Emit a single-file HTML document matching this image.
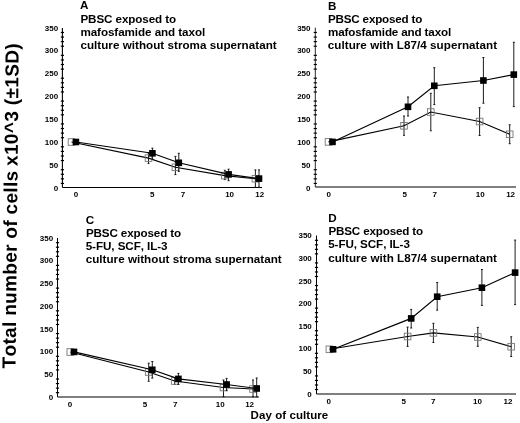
<!DOCTYPE html>
<html><head><meta charset="utf-8"><style>
html,body{margin:0;padding:0;background:#fff;}
body{width:520px;height:423px;overflow:hidden;}
svg{display:block;filter:blur(0.3px);}
text{font-family:"Liberation Sans", sans-serif;font-weight:bold;fill:#000;font-kerning:none;}
.tt{font-size:11.65px;}
.tl{font-size:8.0px;}
.yl{font-size:19px;}
.xlab{font-size:11.5px;}
.ax{stroke:#000;stroke-width:1.1;}
.tk{stroke:#000;stroke-width:1.2;}
.ln{fill:none;stroke:#000;stroke-width:1.15;}
.eb{stroke:#111;stroke-width:0.95;}
.om{fill:none;stroke:#777;stroke-width:0.9;}
.fm{fill:#000;}
</style></head><body>
<svg width="520" height="423" viewBox="0 0 520 423">
<rect width="520" height="423" fill="#fff"/>
<text class="yl" transform="translate(15.60,368.40) rotate(-89.45)" textLength="197.5" lengthAdjust="spacing">Total number of cells</text><text class="yl" transform="translate(17.54,166.01) rotate(-89.45)" textLength="122.6" lengthAdjust="spacing">x10^3 (±1SD)</text>
<text class="xlab" x="250.6" y="419" textLength="77.6" lengthAdjust="spacing">Day of culture</text>
<g id="pA"><line x1="62.4" y1="28" x2="62.4" y2="187.5" class="ax" style="stroke-width:1.1"/>
<line x1="62.4" y1="187.5" x2="262" y2="187.5" class="ax" style="stroke-width:1.1"/>
<line x1="60.8" y1="183.43" x2="64" y2="183.43" class="tk"/>
<line x1="60.8" y1="178.85" x2="64" y2="178.85" class="tk"/>
<line x1="60.8" y1="174.28" x2="64" y2="174.28" class="tk"/>
<line x1="60.8" y1="169.7" x2="64" y2="169.7" class="tk"/>
<line x1="60.8" y1="160.56" x2="64" y2="160.56" class="tk"/>
<line x1="60.8" y1="155.98" x2="64" y2="155.98" class="tk"/>
<line x1="60.8" y1="151.41" x2="64" y2="151.41" class="tk"/>
<line x1="60.8" y1="146.83" x2="64" y2="146.83" class="tk"/>
<line x1="60.8" y1="137.69" x2="64" y2="137.69" class="tk"/>
<line x1="60.8" y1="133.11" x2="64" y2="133.11" class="tk"/>
<line x1="60.8" y1="128.54" x2="64" y2="128.54" class="tk"/>
<line x1="60.8" y1="123.96" x2="64" y2="123.96" class="tk"/>
<line x1="60.8" y1="114.82" x2="64" y2="114.82" class="tk"/>
<line x1="60.8" y1="110.24" x2="64" y2="110.24" class="tk"/>
<line x1="60.8" y1="105.67" x2="64" y2="105.67" class="tk"/>
<line x1="60.8" y1="101.09" x2="64" y2="101.09" class="tk"/>
<line x1="60.8" y1="91.95" x2="64" y2="91.95" class="tk"/>
<line x1="60.8" y1="87.37" x2="64" y2="87.37" class="tk"/>
<line x1="60.8" y1="82.8" x2="64" y2="82.8" class="tk"/>
<line x1="60.8" y1="78.22" x2="64" y2="78.22" class="tk"/>
<line x1="60.8" y1="69.08" x2="64" y2="69.08" class="tk"/>
<line x1="60.8" y1="64.5" x2="64" y2="64.5" class="tk"/>
<line x1="60.8" y1="59.93" x2="64" y2="59.93" class="tk"/>
<line x1="60.8" y1="55.35" x2="64" y2="55.35" class="tk"/>
<line x1="60.8" y1="46.21" x2="64" y2="46.21" class="tk"/>
<line x1="60.8" y1="41.63" x2="64" y2="41.63" class="tk"/>
<line x1="60.8" y1="37.06" x2="64" y2="37.06" class="tk"/>
<line x1="60.8" y1="32.48" x2="64" y2="32.48" class="tk"/>
<text x="58.2" y="190.6" class="tl" text-anchor="end">0</text>
<text x="58.2" y="167.73" class="tl" text-anchor="end">50</text>
<text x="58.2" y="144.86" class="tl" text-anchor="end">100</text>
<text x="58.2" y="121.99" class="tl" text-anchor="end">150</text>
<text x="58.2" y="99.12" class="tl" text-anchor="end">200</text>
<text x="58.2" y="76.25" class="tl" text-anchor="end">250</text>
<text x="58.2" y="53.38" class="tl" text-anchor="end">300</text>
<text x="58.2" y="30.51" class="tl" text-anchor="end">350</text>
<text x="76" y="197.4" class="tl" text-anchor="middle">0</text>
<text x="152.3" y="197.4" class="tl" text-anchor="middle">5</text>
<text x="183" y="197.4" class="tl" text-anchor="middle">7</text>
<text x="229.6" y="197.4" class="tl" text-anchor="middle">10</text>
<text x="259.8" y="197.4" class="tl" text-anchor="middle">12</text>
<text x="79.9" y="9.4" class="tt">A</text>
<text x="80.4" y="22.6" class="tt" textLength="95.8" lengthAdjust="spacing">PBSC exposed to</text>
<text x="80.4" y="35.6" class="tt" textLength="124.8" lengthAdjust="spacing">mafosfamide and taxol</text>
<text x="80.4" y="48.6" class="tt" textLength="196.3" lengthAdjust="spacing">culture without stroma supernatant</text>
<polyline points="71.5,142 148.5,158.1 175.4,167.3 224.8,175.6 255.4,178.7" class="ln"/>
<rect x="68.2" y="138.7" width="6.6" height="6.6" class="om"/>
<line x1="148.5" y1="152.8" x2="148.5" y2="163.4" class="eb"/>
<line x1="147.5" y1="152.8" x2="149.5" y2="152.8" class="eb"/>
<line x1="147.5" y1="163.4" x2="149.5" y2="163.4" class="eb"/>
<rect x="145.2" y="154.8" width="6.6" height="6.6" class="om"/>
<line x1="175.4" y1="156.4" x2="175.4" y2="174.6" class="eb"/>
<line x1="174.4" y1="156.4" x2="176.4" y2="156.4" class="eb"/>
<line x1="174.4" y1="174.6" x2="176.4" y2="174.6" class="eb"/>
<rect x="172.1" y="164" width="6.6" height="6.6" class="om"/>
<line x1="224.8" y1="170.3" x2="224.8" y2="179.6" class="eb"/>
<line x1="223.8" y1="170.3" x2="225.8" y2="170.3" class="eb"/>
<line x1="223.8" y1="179.6" x2="225.8" y2="179.6" class="eb"/>
<rect x="221.5" y="172.3" width="6.6" height="6.6" class="om"/>
<line x1="255.4" y1="169.9" x2="255.4" y2="187.3" class="eb"/>
<line x1="254.4" y1="169.9" x2="256.4" y2="169.9" class="eb"/>
<line x1="254.4" y1="187.3" x2="256.4" y2="187.3" class="eb"/>
<rect x="252.1" y="175.4" width="6.6" height="6.6" class="om"/>
<polyline points="75.9,142 152.4,153.3 178.8,162.8 228.6,174.4 259,178.6" class="ln"/>
<rect x="72.6" y="138.7" width="6.6" height="6.6" class="fm"/>
<line x1="152.4" y1="148.2" x2="152.4" y2="159.2" class="eb"/>
<line x1="151.4" y1="148.2" x2="153.4" y2="148.2" class="eb"/>
<line x1="151.4" y1="159.2" x2="153.4" y2="159.2" class="eb"/>
<rect x="149.1" y="150" width="6.6" height="6.6" class="fm"/>
<line x1="178.8" y1="153.3" x2="178.8" y2="171.4" class="eb"/>
<line x1="177.8" y1="153.3" x2="179.8" y2="153.3" class="eb"/>
<line x1="177.8" y1="171.4" x2="179.8" y2="171.4" class="eb"/>
<rect x="175.5" y="159.5" width="6.6" height="6.6" class="fm"/>
<line x1="228.6" y1="169.2" x2="228.6" y2="180.7" class="eb"/>
<line x1="227.6" y1="169.2" x2="229.6" y2="169.2" class="eb"/>
<line x1="227.6" y1="180.7" x2="229.6" y2="180.7" class="eb"/>
<rect x="225.3" y="171.1" width="6.6" height="6.6" class="fm"/>
<line x1="259" y1="169.9" x2="259" y2="187.3" class="eb"/>
<line x1="258" y1="169.9" x2="260" y2="169.9" class="eb"/>
<line x1="258" y1="187.3" x2="260" y2="187.3" class="eb"/>
<rect x="255.7" y="175.3" width="6.6" height="6.6" class="fm"/></g><g id="pB"><line x1="315.3" y1="27.6" x2="315.3" y2="187" class="ax" style="stroke-width:0.85"/>
<line x1="315.3" y1="187" x2="516" y2="187" class="ax" style="stroke-width:1.0"/>
<line x1="313.7" y1="183.43" x2="316.9" y2="183.43" class="tk"/>
<line x1="313.7" y1="178.85" x2="316.9" y2="178.85" class="tk"/>
<line x1="313.7" y1="174.28" x2="316.9" y2="174.28" class="tk"/>
<line x1="313.7" y1="169.7" x2="316.9" y2="169.7" class="tk"/>
<line x1="313.7" y1="160.56" x2="316.9" y2="160.56" class="tk"/>
<line x1="313.7" y1="155.98" x2="316.9" y2="155.98" class="tk"/>
<line x1="313.7" y1="151.41" x2="316.9" y2="151.41" class="tk"/>
<line x1="313.7" y1="146.83" x2="316.9" y2="146.83" class="tk"/>
<line x1="313.7" y1="137.69" x2="316.9" y2="137.69" class="tk"/>
<line x1="313.7" y1="133.11" x2="316.9" y2="133.11" class="tk"/>
<line x1="313.7" y1="128.54" x2="316.9" y2="128.54" class="tk"/>
<line x1="313.7" y1="123.96" x2="316.9" y2="123.96" class="tk"/>
<line x1="313.7" y1="114.82" x2="316.9" y2="114.82" class="tk"/>
<line x1="313.7" y1="110.24" x2="316.9" y2="110.24" class="tk"/>
<line x1="313.7" y1="105.67" x2="316.9" y2="105.67" class="tk"/>
<line x1="313.7" y1="101.09" x2="316.9" y2="101.09" class="tk"/>
<line x1="313.7" y1="91.95" x2="316.9" y2="91.95" class="tk"/>
<line x1="313.7" y1="87.37" x2="316.9" y2="87.37" class="tk"/>
<line x1="313.7" y1="82.8" x2="316.9" y2="82.8" class="tk"/>
<line x1="313.7" y1="78.22" x2="316.9" y2="78.22" class="tk"/>
<line x1="313.7" y1="69.08" x2="316.9" y2="69.08" class="tk"/>
<line x1="313.7" y1="64.5" x2="316.9" y2="64.5" class="tk"/>
<line x1="313.7" y1="59.93" x2="316.9" y2="59.93" class="tk"/>
<line x1="313.7" y1="55.35" x2="316.9" y2="55.35" class="tk"/>
<line x1="313.7" y1="46.21" x2="316.9" y2="46.21" class="tk"/>
<line x1="313.7" y1="41.63" x2="316.9" y2="41.63" class="tk"/>
<line x1="313.7" y1="37.06" x2="316.9" y2="37.06" class="tk"/>
<line x1="313.7" y1="32.48" x2="316.9" y2="32.48" class="tk"/>
<text x="310.5" y="190.6" class="tl" text-anchor="end">0</text>
<text x="310.5" y="167.73" class="tl" text-anchor="end">50</text>
<text x="310.5" y="144.86" class="tl" text-anchor="end">100</text>
<text x="310.5" y="121.99" class="tl" text-anchor="end">150</text>
<text x="310.5" y="99.12" class="tl" text-anchor="end">200</text>
<text x="310.5" y="76.25" class="tl" text-anchor="end">250</text>
<text x="310.5" y="53.38" class="tl" text-anchor="end">300</text>
<text x="310.5" y="30.51" class="tl" text-anchor="end">350</text>
<text x="328.7" y="196.8" class="tl" text-anchor="middle">0</text>
<text x="404.8" y="196.8" class="tl" text-anchor="middle">5</text>
<text x="434.7" y="196.8" class="tl" text-anchor="middle">7</text>
<text x="480.2" y="196.8" class="tl" text-anchor="middle">10</text>
<text x="510.6" y="196.8" class="tl" text-anchor="middle">12</text>
<text x="328.1" y="9.6" class="tt">B</text>
<text x="328" y="22.7" class="tt" textLength="94.4" lengthAdjust="spacing">PBSC exposed to</text>
<text x="328" y="35.8" class="tt" textLength="123.2" lengthAdjust="spacing">mafosfamide and taxol</text>
<text x="327.8" y="48.7" class="tt" textLength="169.3" lengthAdjust="spacing">culture with L87/4 supernatant</text>
<polyline points="328.5,141.9 404,125.8 430.8,112 479.6,121.5 509.7,134.3" class="ln"/>
<rect x="325.2" y="138.6" width="6.6" height="6.6" class="om"/>
<line x1="404" y1="116" x2="404" y2="135.3" class="eb"/>
<line x1="403" y1="116" x2="405" y2="116" class="eb"/>
<line x1="403" y1="135.3" x2="405" y2="135.3" class="eb"/>
<rect x="400.7" y="122.5" width="6.6" height="6.6" class="om"/>
<line x1="430.8" y1="93.3" x2="430.8" y2="130.8" class="eb"/>
<line x1="429.8" y1="93.3" x2="431.8" y2="93.3" class="eb"/>
<line x1="429.8" y1="130.8" x2="431.8" y2="130.8" class="eb"/>
<rect x="427.5" y="108.7" width="6.6" height="6.6" class="om"/>
<line x1="479.6" y1="107.7" x2="479.6" y2="135.5" class="eb"/>
<line x1="478.6" y1="107.7" x2="480.6" y2="107.7" class="eb"/>
<line x1="478.6" y1="135.5" x2="480.6" y2="135.5" class="eb"/>
<rect x="476.3" y="118.2" width="6.6" height="6.6" class="om"/>
<line x1="509.7" y1="124.8" x2="509.7" y2="143.7" class="eb"/>
<line x1="508.7" y1="124.8" x2="510.7" y2="124.8" class="eb"/>
<line x1="508.7" y1="143.7" x2="510.7" y2="143.7" class="eb"/>
<rect x="506.4" y="131" width="6.6" height="6.6" class="om"/>
<polyline points="332.5,141.9 408,106.8 434.3,85.8 483.4,80.5 513.8,74.6" class="ln"/>
<rect x="329.2" y="138.6" width="6.6" height="6.6" class="fm"/>
<line x1="408" y1="97" x2="408" y2="116" class="eb"/>
<line x1="407" y1="97" x2="409" y2="97" class="eb"/>
<line x1="407" y1="116" x2="409" y2="116" class="eb"/>
<rect x="404.7" y="103.5" width="6.6" height="6.6" class="fm"/>
<line x1="434.3" y1="67.7" x2="434.3" y2="104.6" class="eb"/>
<line x1="433.3" y1="67.7" x2="435.3" y2="67.7" class="eb"/>
<line x1="433.3" y1="104.6" x2="435.3" y2="104.6" class="eb"/>
<rect x="431" y="82.5" width="6.6" height="6.6" class="fm"/>
<line x1="483.4" y1="57.5" x2="483.4" y2="103.2" class="eb"/>
<line x1="482.4" y1="57.5" x2="484.4" y2="57.5" class="eb"/>
<line x1="482.4" y1="103.2" x2="484.4" y2="103.2" class="eb"/>
<rect x="480.1" y="77.2" width="6.6" height="6.6" class="fm"/>
<line x1="513.8" y1="42.3" x2="513.8" y2="106.6" class="eb"/>
<line x1="512.8" y1="42.3" x2="514.8" y2="42.3" class="eb"/>
<line x1="512.8" y1="106.6" x2="514.8" y2="106.6" class="eb"/>
<rect x="510.5" y="71.3" width="6.6" height="6.6" class="fm"/></g><g id="pC"><line x1="57.5" y1="238" x2="57.5" y2="397" class="ax" style="stroke-width:1.0"/>
<line x1="57.5" y1="397" x2="258.9" y2="397" class="ax" style="stroke-width:1.1"/>
<line x1="55.9" y1="392.65" x2="59.1" y2="392.65" class="tk"/>
<line x1="55.9" y1="388.11" x2="59.1" y2="388.11" class="tk"/>
<line x1="55.9" y1="383.56" x2="59.1" y2="383.56" class="tk"/>
<line x1="55.9" y1="379.02" x2="59.1" y2="379.02" class="tk"/>
<line x1="55.9" y1="369.93" x2="59.1" y2="369.93" class="tk"/>
<line x1="55.9" y1="365.38" x2="59.1" y2="365.38" class="tk"/>
<line x1="55.9" y1="360.84" x2="59.1" y2="360.84" class="tk"/>
<line x1="55.9" y1="356.29" x2="59.1" y2="356.29" class="tk"/>
<line x1="55.9" y1="347.2" x2="59.1" y2="347.2" class="tk"/>
<line x1="55.9" y1="342.66" x2="59.1" y2="342.66" class="tk"/>
<line x1="55.9" y1="338.12" x2="59.1" y2="338.12" class="tk"/>
<line x1="55.9" y1="333.57" x2="59.1" y2="333.57" class="tk"/>
<line x1="55.9" y1="324.48" x2="59.1" y2="324.48" class="tk"/>
<line x1="55.9" y1="319.94" x2="59.1" y2="319.94" class="tk"/>
<line x1="55.9" y1="315.39" x2="59.1" y2="315.39" class="tk"/>
<line x1="55.9" y1="310.84" x2="59.1" y2="310.84" class="tk"/>
<line x1="55.9" y1="301.75" x2="59.1" y2="301.75" class="tk"/>
<line x1="55.9" y1="297.21" x2="59.1" y2="297.21" class="tk"/>
<line x1="55.9" y1="292.66" x2="59.1" y2="292.66" class="tk"/>
<line x1="55.9" y1="288.12" x2="59.1" y2="288.12" class="tk"/>
<line x1="55.9" y1="279.03" x2="59.1" y2="279.03" class="tk"/>
<line x1="55.9" y1="274.49" x2="59.1" y2="274.49" class="tk"/>
<line x1="55.9" y1="269.94" x2="59.1" y2="269.94" class="tk"/>
<line x1="55.9" y1="265.39" x2="59.1" y2="265.39" class="tk"/>
<line x1="55.9" y1="256.3" x2="59.1" y2="256.3" class="tk"/>
<line x1="55.9" y1="251.76" x2="59.1" y2="251.76" class="tk"/>
<line x1="55.9" y1="247.21" x2="59.1" y2="247.21" class="tk"/>
<line x1="55.9" y1="242.67" x2="59.1" y2="242.67" class="tk"/>
<text x="53.2" y="399.8" class="tl" text-anchor="end">0</text>
<text x="53.2" y="377.07" class="tl" text-anchor="end">50</text>
<text x="53.2" y="354.35" class="tl" text-anchor="end">100</text>
<text x="53.2" y="331.62" class="tl" text-anchor="end">150</text>
<text x="53.2" y="308.9" class="tl" text-anchor="end">200</text>
<text x="53.2" y="286.18" class="tl" text-anchor="end">250</text>
<text x="53.2" y="263.45" class="tl" text-anchor="end">300</text>
<text x="53.2" y="240.72" class="tl" text-anchor="end">350</text>
<text x="70" y="406.6" class="tl" text-anchor="middle">0</text>
<text x="145" y="406.6" class="tl" text-anchor="middle">5</text>
<text x="175.2" y="406.6" class="tl" text-anchor="middle">7</text>
<text x="220.2" y="406.6" class="tl" text-anchor="middle">10</text>
<text x="249.6" y="406.6" class="tl" text-anchor="middle">12</text>
<text x="85.8" y="224" class="tt">C</text>
<text x="85.9" y="237" class="tt" textLength="95.2" lengthAdjust="spacing">PBSC exposed to</text>
<text x="85.7" y="249.6" class="tt" textLength="81.9" lengthAdjust="spacing">5-FU, SCF, IL-3</text>
<text x="85.7" y="263" class="tt" textLength="196" lengthAdjust="spacing">culture without stroma supernatant</text>
<polyline points="70.3,352 148.7,372 174.7,381 223.5,387.5 253,389" class="ln"/>
<rect x="67" y="348.7" width="6.6" height="6.6" class="om"/>
<line x1="148.7" y1="363.2" x2="148.7" y2="381.3" class="eb"/>
<line x1="147.7" y1="363.2" x2="149.7" y2="363.2" class="eb"/>
<line x1="147.7" y1="381.3" x2="149.7" y2="381.3" class="eb"/>
<rect x="145.4" y="368.7" width="6.6" height="6.6" class="om"/>
<line x1="174.7" y1="377.5" x2="174.7" y2="384.5" class="eb"/>
<line x1="173.7" y1="377.5" x2="175.7" y2="377.5" class="eb"/>
<line x1="173.7" y1="384.5" x2="175.7" y2="384.5" class="eb"/>
<rect x="171.4" y="377.7" width="6.6" height="6.6" class="om"/>
<line x1="223.5" y1="380" x2="223.5" y2="396.6" class="eb"/>
<line x1="222.5" y1="380" x2="224.5" y2="380" class="eb"/>
<line x1="222.5" y1="396.6" x2="224.5" y2="396.6" class="eb"/>
<rect x="220.2" y="384.2" width="6.6" height="6.6" class="om"/>
<line x1="253" y1="380" x2="253" y2="396.8" class="eb"/>
<line x1="252" y1="380" x2="254" y2="380" class="eb"/>
<line x1="252" y1="396.8" x2="254" y2="396.8" class="eb"/>
<rect x="249.7" y="385.7" width="6.6" height="6.6" class="om"/>
<polyline points="74,351.9 152.3,369.8 178.4,378.9 226.6,384.5 256.7,388.5" class="ln"/>
<rect x="70.7" y="348.6" width="6.6" height="6.6" class="fm"/>
<line x1="152.3" y1="361.5" x2="152.3" y2="378.1" class="eb"/>
<line x1="151.3" y1="361.5" x2="153.3" y2="361.5" class="eb"/>
<line x1="151.3" y1="378.1" x2="153.3" y2="378.1" class="eb"/>
<rect x="149" y="366.5" width="6.6" height="6.6" class="fm"/>
<line x1="178.4" y1="373.4" x2="178.4" y2="384.5" class="eb"/>
<line x1="177.4" y1="373.4" x2="179.4" y2="373.4" class="eb"/>
<line x1="177.4" y1="384.5" x2="179.4" y2="384.5" class="eb"/>
<rect x="175.1" y="375.6" width="6.6" height="6.6" class="fm"/>
<line x1="226.6" y1="378.4" x2="226.6" y2="390.6" class="eb"/>
<line x1="225.6" y1="378.4" x2="227.6" y2="378.4" class="eb"/>
<line x1="225.6" y1="390.6" x2="227.6" y2="390.6" class="eb"/>
<rect x="223.3" y="381.2" width="6.6" height="6.6" class="fm"/>
<line x1="256.7" y1="378" x2="256.7" y2="396.8" class="eb"/>
<line x1="255.7" y1="378" x2="257.7" y2="378" class="eb"/>
<line x1="255.7" y1="396.8" x2="257.7" y2="396.8" class="eb"/>
<rect x="253.4" y="385.2" width="6.6" height="6.6" class="fm"/></g><g id="pD"><line x1="316.5" y1="235.5" x2="316.5" y2="394" class="ax" style="stroke-width:1.0"/>
<line x1="316.5" y1="394" x2="516" y2="394" class="ax" style="stroke-width:1.0"/>
<line x1="314.9" y1="389.48" x2="318.1" y2="389.48" class="tk"/>
<line x1="314.9" y1="384.96" x2="318.1" y2="384.96" class="tk"/>
<line x1="314.9" y1="380.44" x2="318.1" y2="380.44" class="tk"/>
<line x1="314.9" y1="375.92" x2="318.1" y2="375.92" class="tk"/>
<line x1="314.9" y1="366.88" x2="318.1" y2="366.88" class="tk"/>
<line x1="314.9" y1="362.36" x2="318.1" y2="362.36" class="tk"/>
<line x1="314.9" y1="357.84" x2="318.1" y2="357.84" class="tk"/>
<line x1="314.9" y1="353.32" x2="318.1" y2="353.32" class="tk"/>
<line x1="314.9" y1="344.28" x2="318.1" y2="344.28" class="tk"/>
<line x1="314.9" y1="339.76" x2="318.1" y2="339.76" class="tk"/>
<line x1="314.9" y1="335.24" x2="318.1" y2="335.24" class="tk"/>
<line x1="314.9" y1="330.72" x2="318.1" y2="330.72" class="tk"/>
<line x1="314.9" y1="321.68" x2="318.1" y2="321.68" class="tk"/>
<line x1="314.9" y1="317.16" x2="318.1" y2="317.16" class="tk"/>
<line x1="314.9" y1="312.64" x2="318.1" y2="312.64" class="tk"/>
<line x1="314.9" y1="308.12" x2="318.1" y2="308.12" class="tk"/>
<line x1="314.9" y1="299.08" x2="318.1" y2="299.08" class="tk"/>
<line x1="314.9" y1="294.56" x2="318.1" y2="294.56" class="tk"/>
<line x1="314.9" y1="290.04" x2="318.1" y2="290.04" class="tk"/>
<line x1="314.9" y1="285.52" x2="318.1" y2="285.52" class="tk"/>
<line x1="314.9" y1="276.48" x2="318.1" y2="276.48" class="tk"/>
<line x1="314.9" y1="271.96" x2="318.1" y2="271.96" class="tk"/>
<line x1="314.9" y1="267.44" x2="318.1" y2="267.44" class="tk"/>
<line x1="314.9" y1="262.92" x2="318.1" y2="262.92" class="tk"/>
<line x1="314.9" y1="253.88" x2="318.1" y2="253.88" class="tk"/>
<line x1="314.9" y1="249.36" x2="318.1" y2="249.36" class="tk"/>
<line x1="314.9" y1="244.84" x2="318.1" y2="244.84" class="tk"/>
<line x1="314.9" y1="240.32" x2="318.1" y2="240.32" class="tk"/>
<text x="311.8" y="396.6" class="tl" text-anchor="end">0</text>
<text x="311.8" y="374" class="tl" text-anchor="end">50</text>
<text x="311.8" y="351.4" class="tl" text-anchor="end">100</text>
<text x="311.8" y="328.8" class="tl" text-anchor="end">150</text>
<text x="311.8" y="306.2" class="tl" text-anchor="end">200</text>
<text x="311.8" y="283.6" class="tl" text-anchor="end">250</text>
<text x="311.8" y="261" class="tl" text-anchor="end">300</text>
<text x="311.8" y="238.4" class="tl" text-anchor="end">350</text>
<text x="328.7" y="403.9" class="tl" text-anchor="middle">0</text>
<text x="403.7" y="403.9" class="tl" text-anchor="middle">5</text>
<text x="433.3" y="403.9" class="tl" text-anchor="middle">7</text>
<text x="477.5" y="403.9" class="tl" text-anchor="middle">10</text>
<text x="507.9" y="403.9" class="tl" text-anchor="middle">12</text>
<text x="328.3" y="222" class="tt">D</text>
<text x="328.4" y="235" class="tt" textLength="94.8" lengthAdjust="spacing">PBSC exposed to</text>
<text x="328.2" y="248.3" class="tt" textLength="81.7" lengthAdjust="spacing">5-FU, SCF, IL-3</text>
<text x="328.2" y="261.5" class="tt" textLength="168.8" lengthAdjust="spacing">culture with L87/4 supernatant</text>
<polyline points="329.4,349.3 407.6,336.5 433.4,332.9 477.8,337 511.2,346.7" class="ln"/>
<rect x="326.1" y="346" width="6.6" height="6.6" class="om"/>
<line x1="407.6" y1="327.1" x2="407.6" y2="346.4" class="eb"/>
<line x1="406.6" y1="327.1" x2="408.6" y2="327.1" class="eb"/>
<line x1="406.6" y1="346.4" x2="408.6" y2="346.4" class="eb"/>
<rect x="404.3" y="333.2" width="6.6" height="6.6" class="om"/>
<line x1="433.4" y1="323.3" x2="433.4" y2="342.5" class="eb"/>
<line x1="432.4" y1="323.3" x2="434.4" y2="323.3" class="eb"/>
<line x1="432.4" y1="342.5" x2="434.4" y2="342.5" class="eb"/>
<rect x="430.1" y="329.6" width="6.6" height="6.6" class="om"/>
<line x1="477.8" y1="327.4" x2="477.8" y2="346.3" class="eb"/>
<line x1="476.8" y1="327.4" x2="478.8" y2="327.4" class="eb"/>
<line x1="476.8" y1="346.3" x2="478.8" y2="346.3" class="eb"/>
<rect x="474.5" y="333.7" width="6.6" height="6.6" class="om"/>
<line x1="511.2" y1="336.8" x2="511.2" y2="356.5" class="eb"/>
<line x1="510.2" y1="336.8" x2="512.2" y2="336.8" class="eb"/>
<line x1="510.2" y1="356.5" x2="512.2" y2="356.5" class="eb"/>
<rect x="507.9" y="343.4" width="6.6" height="6.6" class="om"/>
<polyline points="333.1,349.3 411.2,318.4 437.2,296.7 481.9,287.7 515.1,272.6" class="ln"/>
<rect x="329.8" y="346" width="6.6" height="6.6" class="fm"/>
<line x1="411.2" y1="309.4" x2="411.2" y2="328" class="eb"/>
<line x1="410.2" y1="309.4" x2="412.2" y2="309.4" class="eb"/>
<line x1="410.2" y1="328" x2="412.2" y2="328" class="eb"/>
<rect x="407.9" y="315.1" width="6.6" height="6.6" class="fm"/>
<line x1="437.2" y1="282.5" x2="437.2" y2="310.2" class="eb"/>
<line x1="436.2" y1="282.5" x2="438.2" y2="282.5" class="eb"/>
<line x1="436.2" y1="310.2" x2="438.2" y2="310.2" class="eb"/>
<rect x="433.9" y="293.4" width="6.6" height="6.6" class="fm"/>
<line x1="481.9" y1="269.5" x2="481.9" y2="305.4" class="eb"/>
<line x1="480.9" y1="269.5" x2="482.9" y2="269.5" class="eb"/>
<line x1="480.9" y1="305.4" x2="482.9" y2="305.4" class="eb"/>
<rect x="478.6" y="284.4" width="6.6" height="6.6" class="fm"/>
<line x1="515.1" y1="240.1" x2="515.1" y2="304.6" class="eb"/>
<line x1="514.1" y1="240.1" x2="516.1" y2="240.1" class="eb"/>
<line x1="514.1" y1="304.6" x2="516.1" y2="304.6" class="eb"/>
<rect x="511.8" y="269.3" width="6.6" height="6.6" class="fm"/></g>
</svg>
</body></html>
